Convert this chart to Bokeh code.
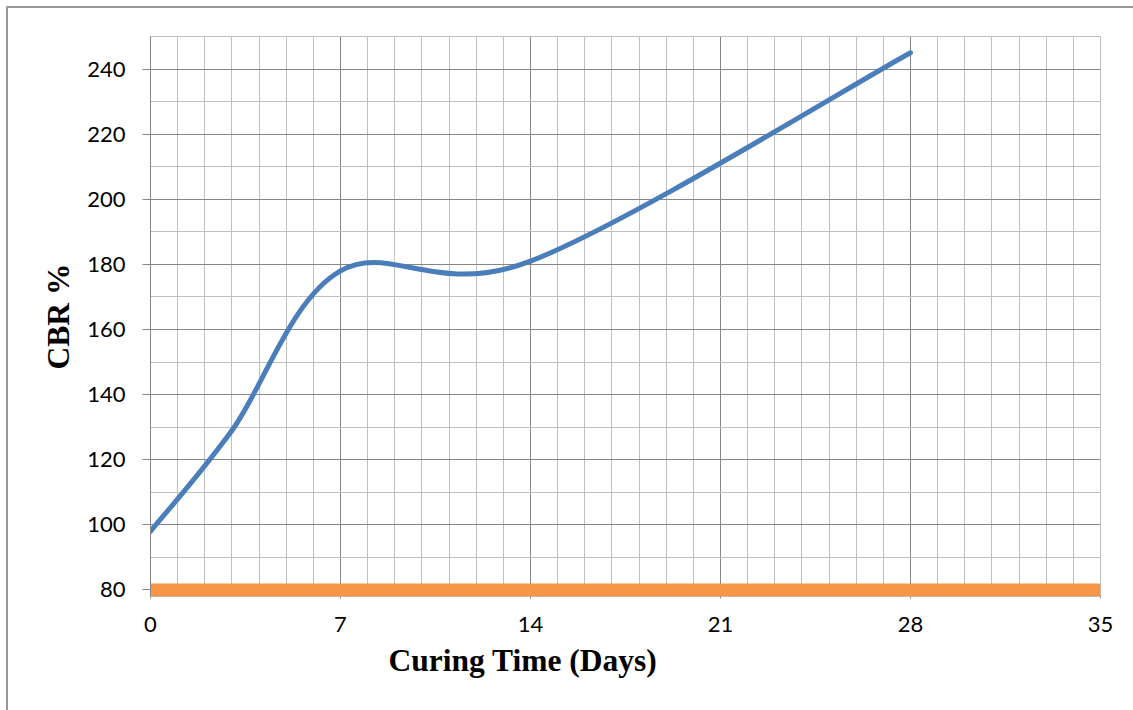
import numpy as np
from bokeh.plotting import figure
from bokeh.models import Range1d, SingleIntervalTicker, Title
from bokeh.embed import file_html
from bokeh.resources import INLINE

# ---- data ----
days = [0, 3, 7, 14, 28]
cbr = [98, 129, 178, 181, 245]
ref_days = [0, 35]
ref_cbr = [80, 80]
x_title = "Curing Time (Days)"
y_title = "CBR %"

BLUE = "#4A7EBB"
ORANGE = "#F79646"
MAJOR = "#868686"
MINOR = "#BFBFBF"

p = figure(width=1133, height=710,
           x_range=Range1d(0, 35), y_range=Range1d(78, 250),
           output_backend="svg", toolbar_location=None,
           min_border_left=150, min_border_right=33,
           min_border_top=36, min_border_bottom=114)
p.styles = {"background-color": "white",
            "box-shadow": "inset 6px 6px 0 0 white, inset 8px 8px 0 0 #9a9a9a"}
p.background_fill_color = "white"
p.border_fill_color = None
p.outline_line_color = MINOR

xt = SingleIntervalTicker(interval=7, num_minor_ticks=7)
yt = SingleIntervalTicker(interval=20, num_minor_ticks=2)
p.xaxis.ticker = xt
p.yaxis.ticker = yt
p.xgrid.ticker = xt
p.ygrid.ticker = yt

for g in (p.xgrid, p.ygrid):
    g.grid_line_color = MAJOR
    g.grid_line_width = 1
    g.minor_grid_line_color = MINOR
    g.minor_grid_line_width = 1

# axes
for ax in (p.xaxis, p.yaxis):
    ax.major_label_text_font = "Lato"
    ax.major_label_text_font_size = "22px"
    ax.major_label_text_color = "black"
    ax.axis_label_text_font = "Liberation Serif"
    ax.axis_label_text_font_style = "bold"
    ax.axis_label_text_font_size = "31.5px"
    ax.axis_label_text_color = "black"
    ax.minor_tick_line_color = None
    ax.major_tick_in = 0
    ax.major_tick_line_color = MAJOR

p.yaxis.axis_label = y_title
p.xaxis.axis_line_color = None
p.xaxis.major_tick_out = 2
p.xaxis.major_label_standoff = 16
p.yaxis.axis_line_color = MAJOR
p.yaxis.major_tick_out = 8
p.yaxis.major_label_standoff = 17
p.yaxis.axis_label_standoff = 8

# x-axis title, placed left of the frame centre as in the original
p.add_layout(Title(text=x_title, align="left", offset=238,
                   text_font="Liberation Serif", text_font_style="bold",
                   text_font_size="31.5px", text_color="black",
                   standoff=12), "below")

# reference line
p.line(ref_days, ref_cbr, line_width=13, line_color=ORANGE)

# smoothed curve (Excel-like Bezier through the data points)
x = np.array(days, dtype=float)
y = np.array(cbr, dtype=float)
n = len(x)
tx = np.zeros(n)
ty = np.zeros(n)
for i in range(n):
    a = max(i - 1, 0)
    b = min(i + 1, n - 1)
    tx[i] = (x[b] - x[a]) / 6.0
    ty[i] = (y[b] - y[a]) / 6.0

p.bezier(x0=x[:-1], y0=y[:-1], x1=x[1:], y1=y[1:],
         cx0=x[:-1] + tx[:-1], cy0=y[:-1] + ty[:-1],
         cx1=x[1:] - tx[1:], cy1=y[1:] - ty[1:],
         line_color=BLUE, line_width=5, line_cap="round")

open("out.html", "w").write(file_html(p, INLINE))
